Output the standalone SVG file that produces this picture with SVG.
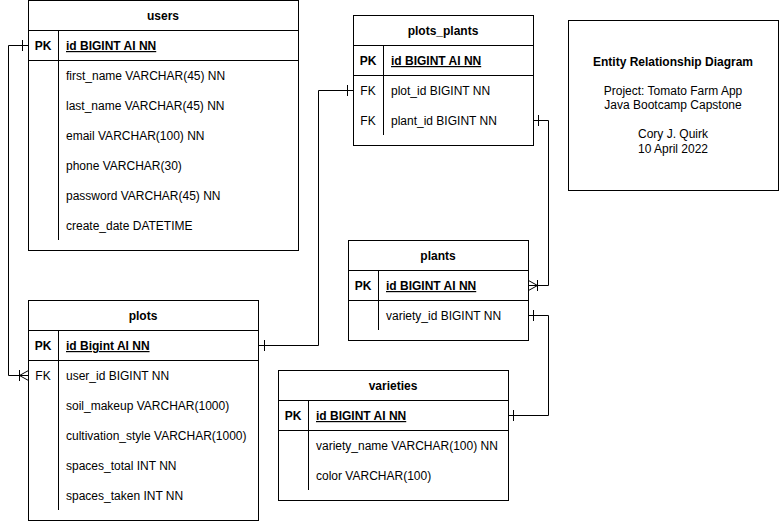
<svg xmlns="http://www.w3.org/2000/svg" width="779" height="521" viewBox="0 0 779 521">
<style>
.box{fill:#fff;stroke:#000;stroke-width:1}
.ln{fill:none;stroke:#000;stroke-width:1}
text{font-family:"Liberation Sans",Arial,sans-serif;font-size:12px;fill:#000}
.title{font-weight:bold;text-anchor:middle}
.key{text-anchor:middle}
.pk{font-weight:bold;text-decoration:underline}
.c{text-anchor:middle}
</style>
<rect width="779" height="521" fill="#fff"/>
<g id="connectors" class="ln">
  <path d="M28.5,45.5 H8.5 V375.5 H28.5"/>
  <path d="M22.5,40 V51"/>
  <path d="M19.5,370 V381 M19.5,375.5 L28.5,370.5 M19.5,375.5 L28.5,380.5"/>
  <path d="M258.5,345.5 H318.5 V90.5 H353.5"/>
  <path d="M264.5,340 V351 M347.5,85 V96"/>
  <path d="M533.5,120.5 H548.5 V285.5 H528.5"/>
  <path d="M538.5,115 V126"/>
  <path d="M537.5,280 V291 M537.5,285.5 L528.5,280.5 M537.5,285.5 L528.5,290.5"/>
  <path d="M528.5,315.5 H548.5 V415.5 H508.5"/>
  <path d="M533.5,310 V321 M513.5,410 V421"/>
</g>
<g id="users">
  <rect class="box" x="28.5" y="0.5" width="270" height="250"/>
  <path class="ln" d="M28.5,30.5 H298.5 M28.5,60.5 H298.5 M58.5,30.5 V240"/>
  <text class="title" x="163" y="20">users</text>
  <text class="key" x="43" y="50" font-weight="bold">PK</text>
  <text class="pk" x="66" y="50">id BIGINT AI NN</text>
  <text x="66" y="80">first_name VARCHAR(45) NN</text>
  <text x="66" y="110">last_name VARCHAR(45) NN</text>
  <text x="66" y="140">email VARCHAR(100) NN</text>
  <text x="66" y="170">phone VARCHAR(30)</text>
  <text x="66" y="200">password VARCHAR(45) NN</text>
  <text x="66" y="230">create_date DATETIME</text>
</g>
<g id="plots">
  <rect class="box" x="28.5" y="300.5" width="230" height="220"/>
  <path class="ln" d="M28.5,330.5 H258.5 M28.5,360.5 H258.5 M58.5,330.5 V510"/>
  <text class="title" x="143" y="320">plots</text>
  <text class="key" x="43" y="350" font-weight="bold">PK</text>
  <text class="pk" x="66" y="350">id Bigint AI NN</text>
  <text class="key" x="43" y="380">FK</text>
  <text x="66" y="380">user_id BIGINT NN</text>
  <text x="66" y="410">soil_makeup VARCHAR(1000)</text>
  <text x="66" y="440">cultivation_style VARCHAR(1000)</text>
  <text x="66" y="470">spaces_total INT NN</text>
  <text x="66" y="500">spaces_taken INT NN</text>
</g>
<g id="plots_plants">
  <rect class="box" x="353.5" y="15.5" width="180" height="130"/>
  <path class="ln" d="M353.5,45.5 H533.5 M353.5,75.5 H533.5 M383.5,45.5 V135"/>
  <text class="title" x="443" y="35">plots_plants</text>
  <text class="key" x="368" y="65" font-weight="bold">PK</text>
  <text class="pk" x="391" y="65">id BIGINT AI NN</text>
  <text class="key" x="368" y="95">FK</text>
  <text x="391" y="95">plot_id BIGINT NN</text>
  <text class="key" x="368" y="125">FK</text>
  <text x="391" y="125">plant_id BIGINT NN</text>
</g>
<g id="plants">
  <rect class="box" x="348.5" y="240.5" width="180" height="100"/>
  <path class="ln" d="M348.5,270.5 H528.5 M348.5,300.5 H528.5 M378.5,270.5 V330"/>
  <text class="title" x="438" y="260">plants</text>
  <text class="key" x="363" y="290" font-weight="bold">PK</text>
  <text class="pk" x="386" y="290">id BIGINT AI NN</text>
  <text x="386" y="320">variety_id BIGINT NN</text>
</g>
<g id="varieties">
  <rect class="box" x="278.5" y="370.5" width="230" height="130"/>
  <path class="ln" d="M278.5,400.5 H508.5 M278.5,430.5 H508.5 M308.5,400.5 V490"/>
  <text class="title" x="393" y="390">varieties</text>
  <text class="key" x="293" y="420" font-weight="bold">PK</text>
  <text class="pk" x="316" y="420">id BIGINT AI NN</text>
  <text x="316" y="450">variety_name VARCHAR(100) NN</text>
  <text x="316" y="480">color VARCHAR(100)</text>
</g>
<g id="info">
  <rect class="box" x="568.5" y="20.5" width="210" height="170"/>
  <text class="c" x="673" y="66" font-weight="bold">Entity Relationship Diagram</text>
  <text class="c" x="673" y="95">Project: Tomato Farm App</text>
  <text class="c" x="673" y="109">Java Bootcamp Capstone</text>
  <text class="c" x="673" y="138">Cory J. Quirk</text>
  <text class="c" x="673" y="153">10 April 2022</text>
</g>
</svg>
